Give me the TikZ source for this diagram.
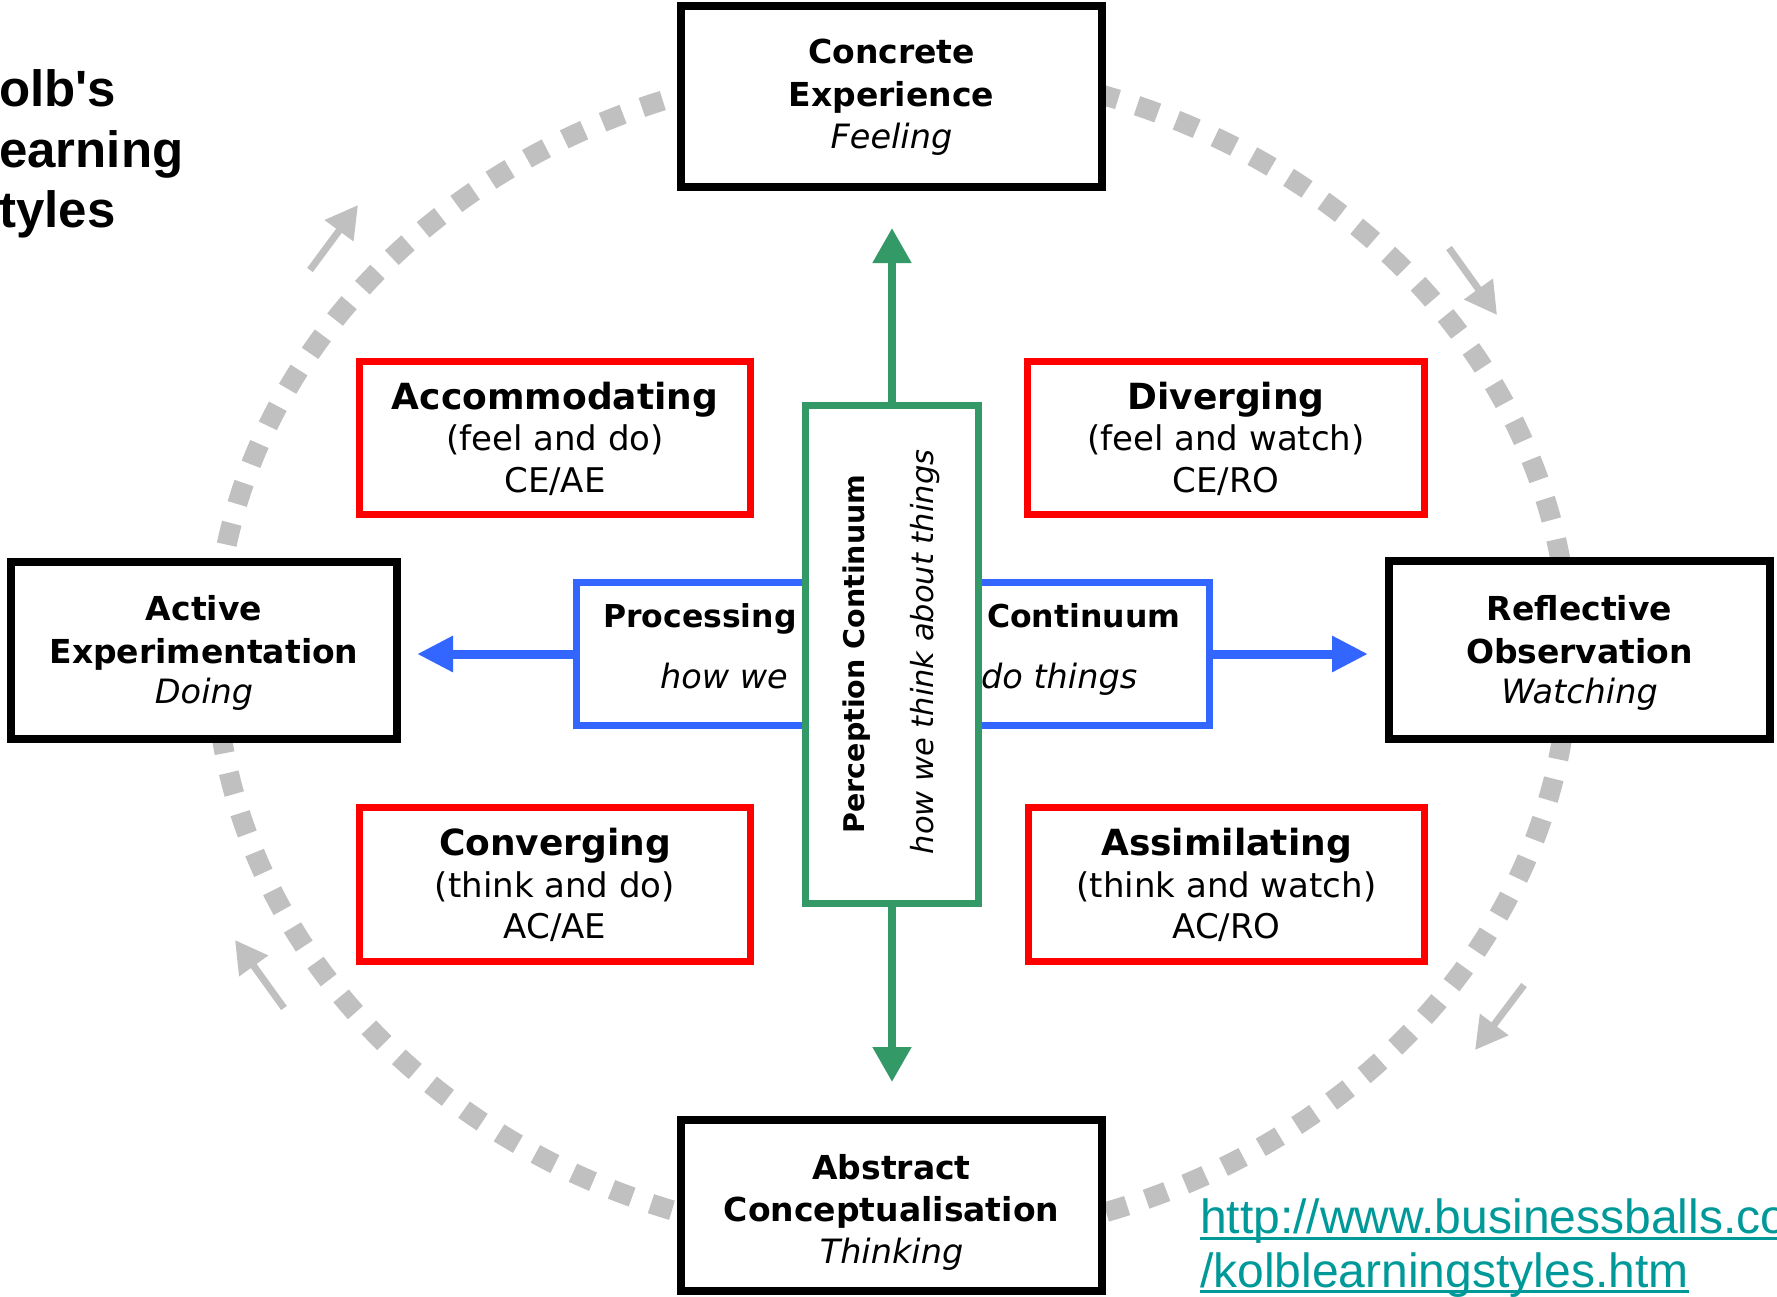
\documentclass[tikz,border=0pt]{standalone}
\usepackage{fontspec}
\setmainfont{DejaVu Sans}
\newfontfamily\titlefont{Liberation Sans}
\usetikzlibrary{arrows.meta}
\definecolor{kgreen}{HTML}{339966}
\definecolor{kblue}{HTML}{3366FF}
\definecolor{kgray}{HTML}{C0C0C0}
\definecolor{kteal}{HTML}{009999}
\definecolor{kred}{HTML}{FF0000}
\begin{document}
\begin{tikzpicture}[x=1pt,y=-1pt,
  blackbox/.style={draw=black, line width=8pt, fill=white, inner sep=0pt, outer sep=0pt},
  redbox/.style={draw=kred, line width=7pt, fill=white, inner sep=0pt, outer sep=0pt},
  lbl/.style={anchor=base, inner sep=0pt},
  bb/.style={lbl, font=\fontsize{33}{40}\selectfont\bfseries},
  bi/.style={lbl, font=\fontsize{33.5}{40}\selectfont\itshape},
  rb/.style={lbl, font=\fontsize{36}{44}\selectfont\bfseries},
  rr/.style={lbl, font=\fontsize{34}{41}\selectfont},
  cb/.style={inner sep=0pt, font=\fontsize{31.5}{38}\selectfont\bfseries},
  ci/.style={inner sep=0pt, font=\fontsize{33.5}{40}\selectfont\itshape},
  ttl/.style={anchor=base west, inner sep=0pt, font=\titlefont\fontsize{51}{60}\selectfont\bfseries},
  urlt/.style={anchor=base west, inner sep=0pt, text=kteal, font=\titlefont\fontsize{48}{57}\selectfont},
  cycle/.style={draw=kgray, line width=20pt, dash pattern=on 22pt off 20pt},
  grayarrow/.style={draw=kgray, line width=7pt, -{Triangle[length=32pt,width=34pt]}},
  bluearrow/.style={draw=kblue, line width=9pt, -{Triangle[length=36pt,width=34pt]}},
  greenarrow/.style={draw=kgreen, line width=8pt, -{Triangle[length=35pt,width=37pt]}}
]
\useasboundingbox (0,0) rectangle (1777,1296);
\fill[white] (0,0) rectangle (1777,1296);

% cycle
\draw[cycle] (892,654) ellipse [x radius=677, y radius=588];

% gray direction arrows
\coordinate (tla) at (310,270); \coordinate (tlb) at (358,205);
\coordinate (tra) at (1449,248); \coordinate (trb) at (1497,315);
\coordinate (bra) at (1524,985); \coordinate (brb) at (1475,1050);
\coordinate (bla) at (284,1008); \coordinate (blb) at (235,940);
\draw[grayarrow] (tla) -- (tlb);
\draw[grayarrow] (tra) -- (trb);
\draw[grayarrow] (bra) -- (brb);
\draw[grayarrow] (bla) -- (blb);

% title
\node[ttl] (t1) at (-1,106) {olb's};
\node[ttl] (t2) at (-1,167) {earning};
\node[ttl] (t3) at (-1,227) {tyles};

% black boxes
\node[blackbox, minimum width=421pt, minimum height=181pt] (ce) at (891.5,96.5) {};
\node[blackbox, minimum width=421pt, minimum height=171pt] (ac) at (891.5,1205.5) {};
\node[blackbox, minimum width=386pt, minimum height=177pt] (ae) at (204,650.5) {};
\node[blackbox, minimum width=381pt, minimum height=178pt] (ro) at (1579.5,650) {};

% red boxes
\node[redbox, minimum width=391pt, minimum height=153pt] (acc) at (555,438) {};
\node[redbox, minimum width=397pt, minimum height=153pt] (div) at (1226,438) {};
\node[redbox, minimum width=391pt, minimum height=154pt] (con) at (555,884.5) {};
\node[redbox, minimum width=396pt, minimum height=154pt] (ass) at (1226.5,884.5) {};

% blue processing box
\node[draw=kblue, line width=7pt, fill=white, inner sep=0pt, outer sep=0pt,
      minimum width=633pt, minimum height=143pt] (proc) at (893,654) {};
\coordinate (ltip) at (417,654);
\coordinate (rtip) at (1368,654);
\draw[bluearrow] (proc.west |- ltip) -- (ltip);
\draw[bluearrow] (proc.east |- rtip) -- (rtip);
\node[cb, anchor=base west] (p1) at (603,627) {Processing};
\node[ci, anchor=base east] (p2) at (788,688) {how we};
\node[cb, anchor=base west] (p3) at (987,627) {Continuum};
\node[ci, anchor=base west] (p4) at (981,688) {do things};

% green perception box
\node[draw=kgreen, line width=7pt, fill=white, inner sep=0pt, outer sep=0pt,
      minimum width=173pt, minimum height=498pt] (perc) at (892,654.5) {};
\coordinate (utip) at (892,228);
\coordinate (dtip) at (892,1082);
\draw[greenarrow] (perc.north) -- (utip);
\draw[greenarrow] (perc.south) -- (dtip);
\node[inner sep=0pt, anchor=base, rotate=90, font=\fontsize{28.5}{34}\selectfont\bfseries] (g1) at (864,654) {Perception Continuum};
\node[inner sep=0pt, anchor=base, rotate=90, font=\fontsize{30.5}{36}\selectfont\itshape] (g2) at (933,652) {how we think about things};

% black box texts
\node[bb] (ce1) at (891.5,63) {Concrete};
\node[bb] (ce2) at (891.5,106) {Experience};
\node[bi] (ce3) at (891.5,148) {Feeling};
\node[bb] (ac1) at (891.5,1179) {Abstract};
\node[bb] (ac2) at (891.5,1221) {Conceptualisation};
\node[bi] (ac3) at (891.5,1263) {Thinking};
\node[bb] (ae1) at (204,620) {Active};
\node[bb] (ae2) at (204,663) {Experimentation};
\node[bi] (ae3) at (204,703) {Doing};
\node[bb] (ro1) at (1579.5,620) {Reflective};
\node[bb] (ro2) at (1579.5,663) {Observation};
\node[bi] (ro3) at (1579.5,703) {Watching};

% red box texts
\node[rb] (acc1) at (555,409) {Accommodating};
\node[rr] (acc2) at (555,450) {(feel and do)};
\node[rr] (acc3) at (555,492) {CE/AE};
\node[rb] (div1) at (1226,409) {Diverging};
\node[rr] (div2) at (1226,450) {(feel and watch)};
\node[rr] (div3) at (1226,492) {CE/RO};
\node[rb] (con1) at (555,855) {Converging};
\node[rr] (con2) at (555,897) {(think and do)};
\node[rr] (con3) at (555,938) {AC/AE};
\node[rb] (ass1) at (1226.5,855) {Assimilating};
\node[rr] (ass2) at (1226.5,897) {(think and watch)};
\node[rr] (ass3) at (1226.5,938) {AC/RO};

% url
\node[urlt] (u1) at (1200,1233) {http://www.businessballs.co};
\node[urlt] (u2) at (1200,1287) {/kolblearningstyles.htm};
\draw[kteal, line width=3pt] ([yshift=-5pt]u1.base west) -- ([yshift=-5pt]u1.base east);
\draw[kteal, line width=3pt] ([yshift=-4pt]u2.base west) -- ([yshift=-4pt]u2.base east);
\end{tikzpicture}
\end{document}
